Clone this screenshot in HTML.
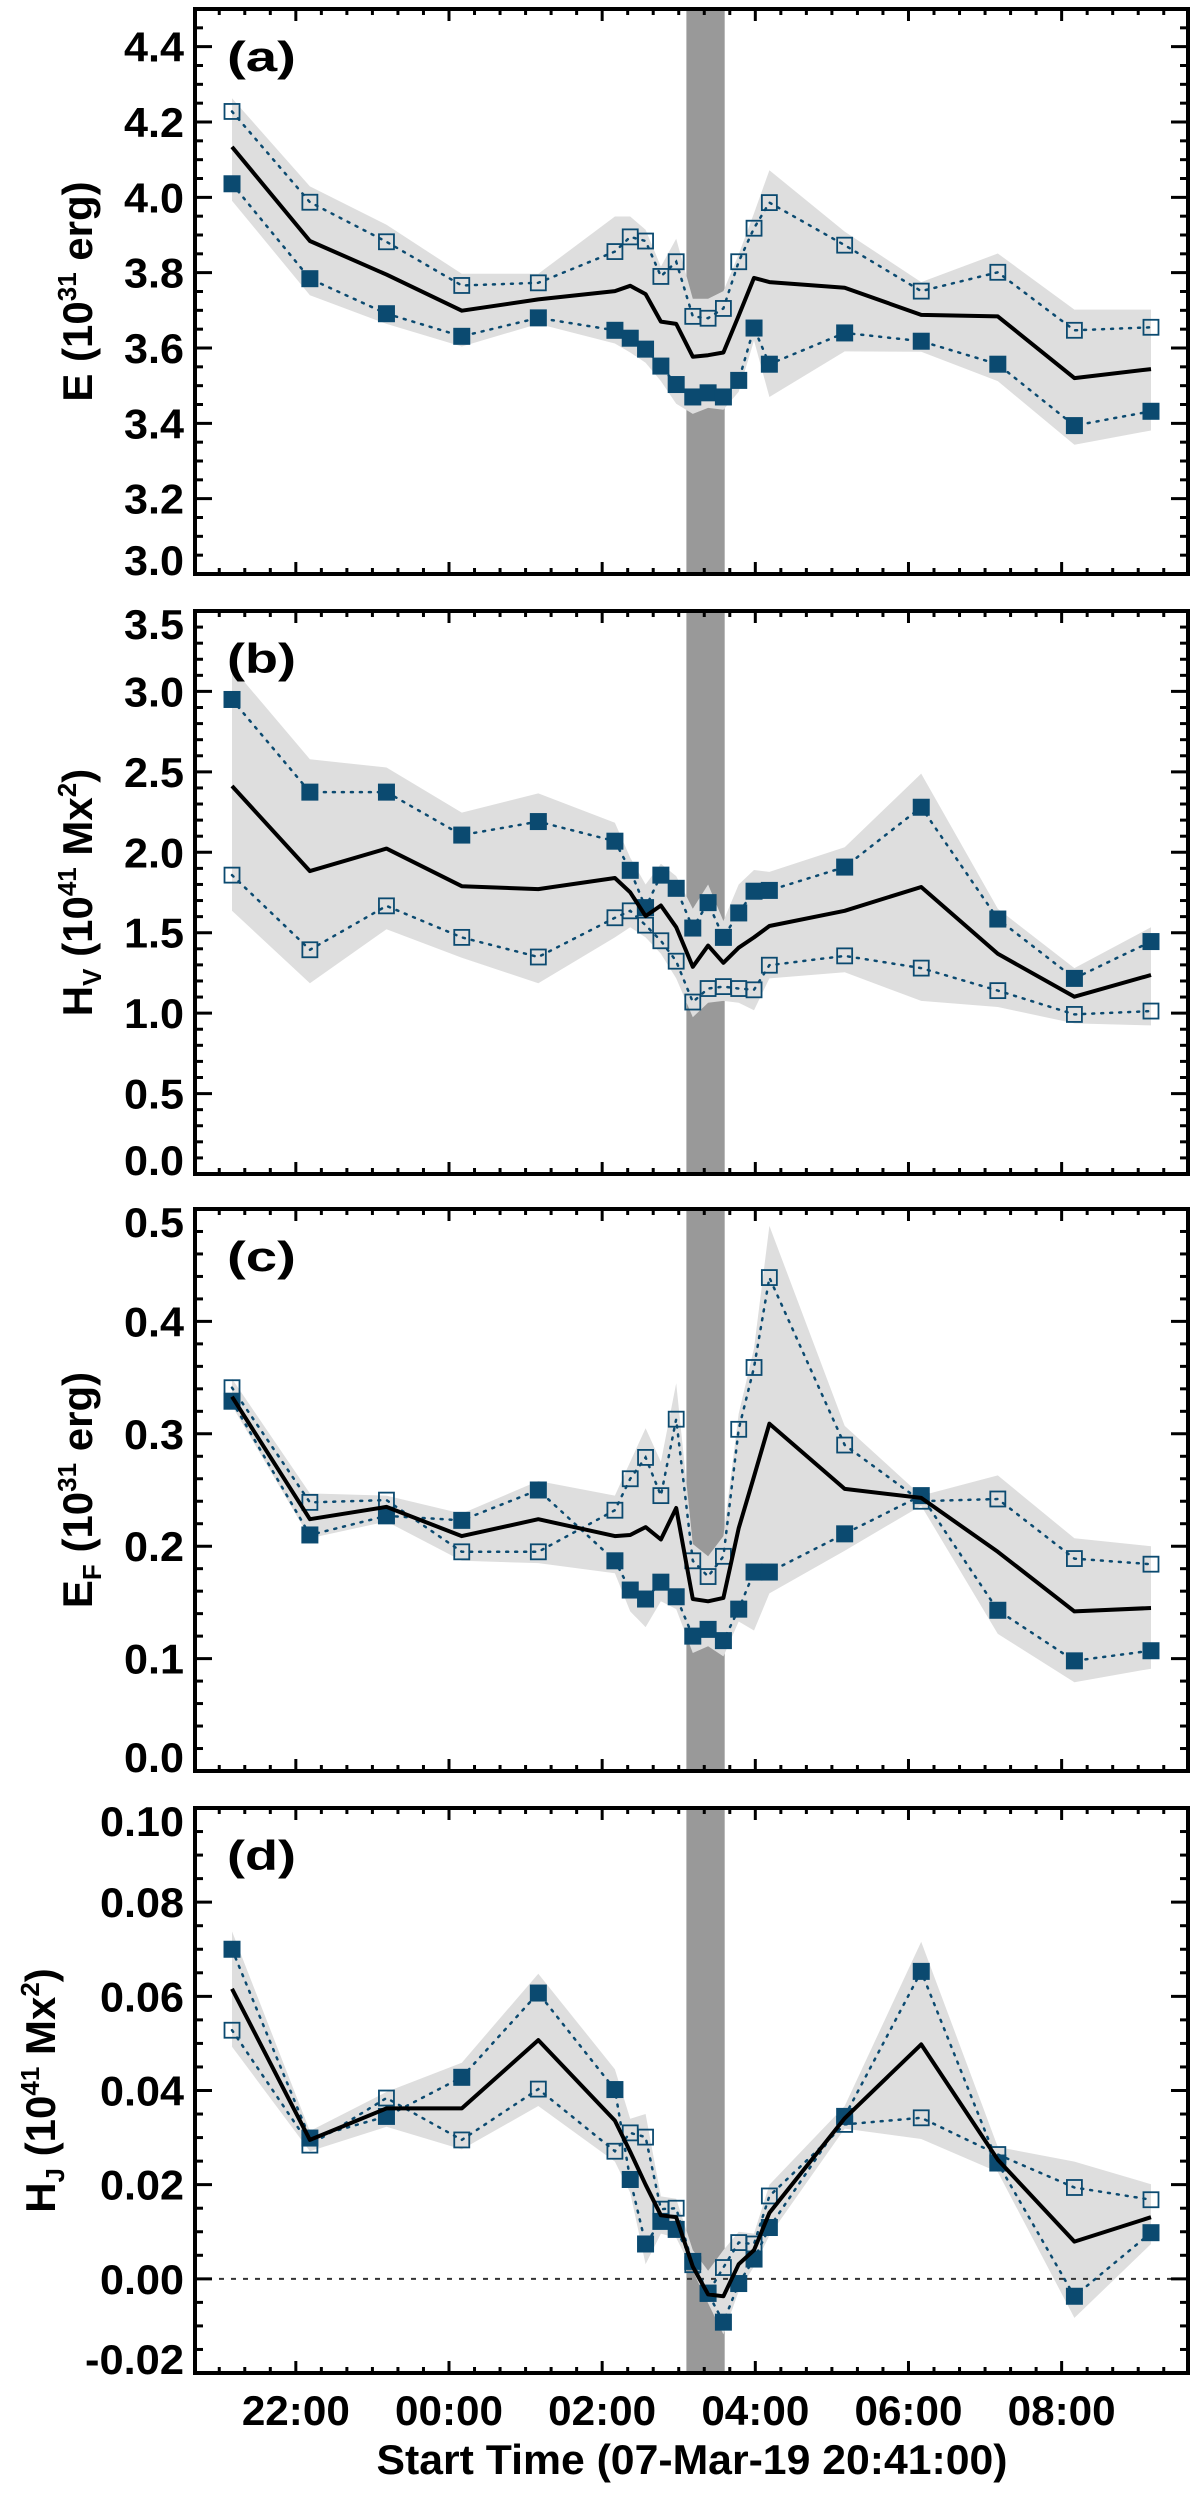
<!DOCTYPE html>
<html><head><meta charset="utf-8"><style>
html,body{margin:0;padding:0;background:#fff;}
svg{display:block;}
text{font-family:"Liberation Sans Narrow","Liberation Sans",sans-serif;font-weight:bold;fill:#000;}
</style></head><body>
<svg id="chart" width="1200" height="2494" viewBox="0 0 1200 2494" xmlns="http://www.w3.org/2000/svg"></svg>
<script>
// time in minutes after 20:41
const times = [29,90,150,209,269,329,341,353,365,377,390,402,414,426,438,450,509,569,629,689,749];
const xTickLabels = ["22:00","00:00","02:00","04:00","06:00","08:00"];
const xTickMinutes = [79,199,319,439,559,679];
const bandRange = [385,415];

// panel (a) E
const aFilled = [4.036,3.784,3.691,3.631,3.680,3.647,3.626,3.597,3.552,3.503,3.470,3.481,3.470,3.514,3.653,3.557,3.640,3.618,3.557,3.394,3.432];
const aOpen = [4.228,3.987,3.882,3.766,3.773,3.856,3.895,3.884,3.790,3.829,3.684,3.679,3.705,3.829,3.918,3.986,3.873,3.751,3.801,3.647,3.655];
const aMean = [4.134,3.884,3.795,3.699,3.729,3.751,3.765,3.743,3.670,3.664,3.577,3.581,3.588,3.686,3.786,3.775,3.760,3.688,3.684,3.520,3.544];
const aUpper = [4.263,4.029,3.927,3.797,3.797,3.949,3.949,3.914,3.816,3.890,3.731,3.731,3.751,3.849,3.958,4.072,3.909,3.775,3.851,3.702,3.702];
const aLower = [3.991,3.740,3.664,3.604,3.664,3.612,3.588,3.561,3.512,3.452,3.425,3.441,3.436,3.484,3.620,3.470,3.591,3.590,3.512,3.343,3.381];
const aTicks = ["3.0","3.2","3.4","3.6","3.8","4.0","4.2","4.4"];

// panel (b) Hv
const bFilled = [2.95,2.374,2.374,2.107,2.191,2.069,1.888,1.656,1.858,1.776,1.529,1.687,1.471,1.623,1.758,1.763,1.908,2.280,1.585,1.216,1.445];
const bOpen = [1.858,1.394,1.667,1.471,1.349,1.593,1.636,1.547,1.450,1.323,1.069,1.153,1.165,1.153,1.145,1.298,1.356,1.280,1.140,0.992,1.013];
const bMean = [2.412,1.883,2.023,1.789,1.771,1.840,1.751,1.603,1.669,1.534,1.288,1.420,1.313,1.407,1.471,1.542,1.636,1.784,1.369,1.102,1.237];
const bUpper = [3.15,2.578,2.527,2.247,2.366,2.183,1.967,1.80,1.929,1.852,1.649,1.80,1.573,1.80,1.89,1.878,2.031,2.489,1.649,1.28,1.534];
const bLower = [1.636,1.186,1.522,1.344,1.186,1.471,1.534,1.471,1.369,1.216,0.975,1.064,1.076,1.064,1.018,1.216,1.254,1.076,1.038,0.936,0.924];
const bTicks = ["0.0","0.5","1.0","1.5","2.0","2.5","3.0","3.5"];

// panel (c) Ef
const cFilled = [0.329,0.210,0.227,0.223,0.250,0.187,0.161,0.153,0.168,0.155,0.120,0.126,0.116,0.144,0.177,0.177,0.211,0.245,0.143,0.098,0.107];
const cOpen = [0.341,0.239,0.241,0.195,0.195,0.232,0.260,0.279,0.245,0.313,0.187,0.173,0.191,0.304,0.359,0.439,0.290,0.240,0.242,0.189,0.184];
const cMean = [0.333,0.224,0.235,0.209,0.224,0.209,0.210,0.217,0.206,0.234,0.153,0.151,0.154,0.216,0.262,0.309,0.251,0.243,0.195,0.142,0.145];
const cUpper = [0.349,0.247,0.245,0.229,0.258,0.245,0.275,0.305,0.275,0.345,0.202,0.191,0.209,0.318,0.376,0.485,0.307,0.245,0.263,0.207,0.200];
const cLower = [0.325,0.207,0.222,0.187,0.185,0.176,0.142,0.128,0.151,0.144,0.105,0.111,0.102,0.133,0.125,0.158,0.196,0.236,0.122,0.079,0.091];
const cTicks = ["0.0","0.1","0.2","0.3","0.4","0.5"];

// panel (d) Hj
const dFilled = [0.0700,0.0299,0.0345,0.0428,0.0607,0.0402,0.0211,0.0074,0.0122,0.0105,0.0037,-0.0031,-0.0092,-0.0010,0.0042,0.0109,0.0345,0.0653,0.0246,-0.0037,0.0098];
const dOpen = [0.0528,0.0284,0.0384,0.0295,0.0403,0.0271,0.0310,0.0301,0.0148,0.0150,0.0030,-0.0030,0.0024,0.0077,0.0074,0.0176,0.0328,0.0342,0.0264,0.0194,0.0168];
const dMean = [0.0616,0.0295,0.0362,0.0362,0.0507,0.0336,0.0270,0.0200,0.0135,0.0131,0.0026,-0.0033,-0.0037,0.0031,0.0061,0.0140,0.0341,0.0498,0.0253,0.0079,0.0131];
const dUpper = [0.0738,0.0314,0.0397,0.0459,0.0648,0.0445,0.0340,0.0350,0.0175,0.0170,0.0061,0.0017,0.0061,0.0100,0.0096,0.0200,0.0367,0.0716,0.0280,0.0249,0.0201];
const dLower = [0.0493,0.0271,0.0323,0.0275,0.0367,0.0249,0.0183,0.0031,0.0096,0.0087,0.0017,-0.0052,-0.0118,-0.0026,0.0026,0.0092,0.0319,0.0297,0.0227,-0.0083,0.0074];
const dTicks = ["-0.02","0.00","0.02","0.04","0.06","0.08","0.10"];

const NS = "http://www.w3.org/2000/svg";
const svg = document.getElementById("chart");
const X0 = 195, X1 = 1188, TMAX = 778;
function xs(t){ return X0 + (X1 - X0) * t / TMAX; }
function mk(tag, attrs, parent){
  const e = document.createElementNS(NS, tag);
  for (const k in attrs) e.setAttribute(k, attrs[k]);
  (parent || svg).appendChild(e);
  return e;
}
function labelWidth(s){
  let w = 0;
  for (const ch of s) w += (ch === "." || ch === ":") ? 12 : (ch === "-" ? 15 : 24);
  return w;
}
const BLUE = "#0b4a70";

const panels = [
  {id:"a", top:9, bot:574, lo:3.0, hi:4.5, major:0.2, minor:0.05, ticks:aTicks, filled:aFilled, open:aOpen, mean:aMean, up:aUpper, low:aLower, title:["E (10","31"," erg)"], tx:77},
  {id:"b", top:611, bot:1174, lo:0.0, hi:3.5, major:0.5, minor:0.1, ticks:bTicks, filled:bFilled, open:bOpen, mean:bMean, up:bUpper, low:bLower, title:["H","V"," (10","41"," Mx","2",")"], tx:77},
  {id:"c", top:1209, bot:1771, lo:0.0, hi:0.5, major:0.1, minor:0.02, ticks:cTicks, filled:cFilled, open:cOpen, mean:cMean, up:cUpper, low:cLower, title:["E","F"," (10","31"," erg)"], tx:77},
  {id:"d", top:1808, bot:2373, lo:-0.02, hi:0.10, major:0.02, minor:0.005, ticks:dTicks, filled:dFilled, open:dOpen, mean:dMean, up:dUpper, low:dLower, title:["H","J"," (10","41"," Mx","2",")"], tx:40}
];

panels.forEach(p => {
  const g = mk("g", {});
  
  
  const ys = v => p.bot - (p.bot - p.top) * (v - p.lo) / (p.hi - p.lo);

  const band = mk("rect", {x:xs(bandRange[0]), y:p.top, width:xs(bandRange[1]) - xs(bandRange[0]), height:p.bot - p.top, fill:"#999999"}, g);
  
  

  let pts = [];
  times.forEach((t,i) => pts.push(xs(t).toFixed(1) + "," + ys(p.up[i]).toFixed(1)));
  for (let i = times.length - 1; i >= 0; i--) pts.push(xs(times[i]).toFixed(1) + "," + ys(p.low[i]).toFixed(1));
  const shade = mk("polygon", {points:pts.join(" "), fill:"#dedede"}, g);
  
  

  if (p.id === "d") {
    const z = mk("line", {x1:X0, x2:X1, y1:ys(0), y2:ys(0), stroke:"#333", "stroke-width":2, "stroke-dasharray":"5,7"}, g);
    
    
  }

  [p.filled, p.open].forEach((arr, k) => {
    const l = mk("polyline", {points:times.map((t,i)=>xs(t).toFixed(1)+","+ys(arr[i]).toFixed(1)).join(" "), fill:"none", stroke:BLUE, "stroke-width":2.5, "stroke-dasharray":"2,7", "stroke-linecap":"round"}, g);
    
    
  });

  times.forEach((t,i) => {
    const r = mk("rect", {x:xs(t)-7.5, y:ys(p.open[i])-7.5, width:15, height:15, fill:"none", stroke:BLUE, "stroke-width":1.8}, g);
    
    
  });
  times.forEach((t,i) => {
    const r = mk("rect", {x:xs(t)-8.5, y:ys(p.filled[i])-8.5, width:17, height:17, fill:BLUE}, g);
    
    
  });

  const m = mk("polyline", {points:times.map((t,i)=>xs(t).toFixed(1)+","+ys(p.mean[i]).toFixed(1)).join(" "), fill:"none", stroke:"#000", "stroke-width":4, "stroke-linejoin":"round"}, g);
  
  

  const box = mk("rect", {x:X0, y:p.top, width:X1 - X0, height:p.bot - p.top, fill:"none", stroke:"#000", "stroke-width":4}, g);
  
  

  const nMin = Math.round((p.hi - p.lo) / p.minor);
  const ratio = Math.round(p.major / p.minor);
  for (let i = 0; i <= nMin; i++) {
    const v = p.lo + i * p.minor, y = ys(v), len = (i % ratio === 0) ? 17 : 8;
    mk("line", {x1:X0, x2:X0 + len, y1:y, y2:y, stroke:"#000", "stroke-width":3}, g);
    mk("line", {x1:X1, x2:X1 - len, y1:y, y2:y, stroke:"#000", "stroke-width":3}, g);
  }
  p.ticks.forEach((lab, i) => {
    const v = p.lo + i * p.major;
    let cy = ys(v);
    cy = Math.max(p.top + 13, Math.min(p.bot - 14, cy));
    const t = mk("text", {x:184, y:cy + 15, "text-anchor":"end", "font-size":42, textLength:labelWidth(lab), lengthAdjust:"spacingAndGlyphs"}, g);
    t.textContent = lab;
    
    
  });

  for (let t = -1; t <= TMAX; t += 20) {
    const x = xs(t); if (x < X0 - 1) continue;
    const major = xTickMinutes.indexOf(t) >= 0, len = major ? 12 : 6;
    mk("line", {x1:x, x2:x, y1:p.bot, y2:p.bot - len, stroke:"#000", "stroke-width":3}, g);
    mk("line", {x1:x, x2:x, y1:p.top, y2:p.top + len, stroke:"#000", "stroke-width":3}, g);
  }

  const pl = mk("text", {x:227, y:p.top + 62, "font-size":42, textLength:69, lengthAdjust:"spacingAndGlyphs"}, g);
  pl.textContent = "(" + p.id + ")";
  
  

  const cy = (p.top + p.bot) / 2;
  const yt = mk("text", {x:0, y:0, "text-anchor":"middle", "font-size":42, transform:"translate(" + (p.tx + 15) + "," + cy + ") rotate(-90)", style:"font-family:'Liberation Sans',sans-serif"}, g);
  
  
  p.title.forEach((s, i) => {
    const ts = mk("tspan", {}, yt);
    ts.textContent = s;
    const isSup = (s === "31" || s === "41" || s === "2");
    const isSub = (s === "V" || s === "F" || s === "J");
    if (isSup) { ts.setAttribute("font-size", 26); ts.setAttribute("dy", -16); }
    else if (isSub) { ts.setAttribute("font-size", 26); ts.setAttribute("dy", 9); }
    else if (i > 0) {
      const prev = p.title[i - 1];
      if (prev === "31" || prev === "41" || prev === "2") ts.setAttribute("dy", 16);
      if (prev === "V" || prev === "F" || prev === "J") ts.setAttribute("dy", -9);
    }
  });
});

xTickLabels.forEach((lab, i) => {
  const t = mk("text", {x:xs(xTickMinutes[i]), y:2425, "text-anchor":"middle", "font-size":42, textLength:108, lengthAdjust:"spacingAndGlyphs"});
  t.textContent = lab;
  
  
});
const xt = mk("text", {x:692, y:2474, "text-anchor":"middle", "font-size":42, textLength:631, lengthAdjust:"spacingAndGlyphs"});
xt.textContent = "Start Time (07-Mar-19 20:41:00)";


</script>
</body></html>
